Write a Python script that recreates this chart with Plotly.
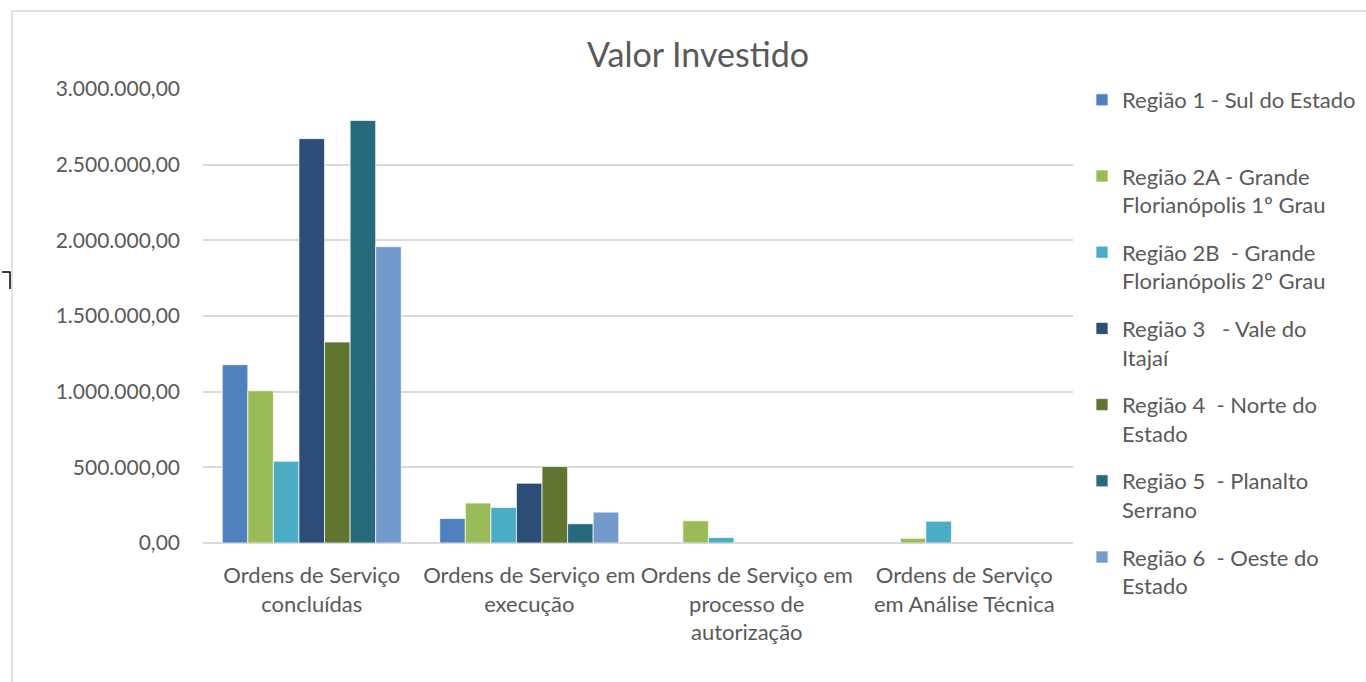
import plotly.graph_objects as go

categories = [
    "Ordens de Serviço<br>concluídas",
    "Ordens de Serviço em<br>execução",
    "Ordens de Serviço em<br>processo de<br>autorização",
    "Ordens de Serviço<br>em Análise Técnica",
]

series_names = [
    "Região 1 - Sul do Estado<br>\u00a0",
    "Região 2A - Grande<br>Florianópolis 1º Grau",
    "Região 2B  - Grande<br>Florianópolis 2º Grau",
    "Região 3   - Vale do<br>Itajaí",
    "Região 4  - Norte do<br>Estado",
    "Região 5  - Planalto<br>Serrano",
    "Região 6  - Oeste do<br>Estado",
]

regiao_1 = [1178000, 162000, 0, 0]
regiao_2a = [1006000, 264000, 147000, 31000]
regiao_2b = [540000, 235000, 36000, 144000]
regiao_3 = [2672000, 395000, 0, 0]
regiao_4 = [1328000, 505000, 0, 0]
regiao_5 = [2792000, 127000, 0, 0]
regiao_6 = [1958000, 204000, 0, 0]

series_values = [regiao_1, regiao_2a, regiao_2b, regiao_3, regiao_4, regiao_5, regiao_6]
colors = ["#4F81BD", "#9BBB59", "#4BACC6", "#2C4D75", "#5F7530", "#276A7C", "#729ACA"]

FONT = "Lato"
GREY = "#595959"
GRID = "#D9D9D9"

fig = go.Figure()
for i, (name, vals, col) in enumerate(zip(series_names, series_values, colors)):
    fig.add_trace(go.Bar(
        x=categories, y=vals, name=name,
        marker=dict(color=col,
                    line=dict(color="rgba(255,255,255,0.7)",
                              width=[1 if v > 0 else 0 for v in vals])),
        legendgroup=f"g{i}",
    ))

# pixel helpers for plot area
L, R, T, B = 203, 1073, 89, 543
def px(x):
    return (x - L) / (R - L)
def py(y):
    return (B - y) / (B - T)

fig.update_layout(
    width=1366, height=682,
    margin=dict(l=L, r=1366 - R, t=T, b=682 - B, pad=0, autoexpand=False),
    paper_bgcolor="white", plot_bgcolor="white",
    separators=",.",
    barmode="group", bargap=0.177, bargroupgap=0,
    font=dict(family=FONT, color=GREY, size=21),
    title=dict(text="Valor Investido", x=698 / 1366, xref="container", xanchor="center",
               y=1 - 55 / 682, yref="container", yanchor="middle",
               font=dict(family=FONT, size=34, color=GREY)),
    legend=dict(x=1082 / 1366, xref="container", y=py(79), xanchor="left", yanchor="top",
                font=dict(family=FONT, size=22, color=GREY),
                valign="top", tracegroupgap=16, traceorder="grouped",
                maxheight=640, bgcolor="rgba(0,0,0,0)"),
    xaxis=dict(showgrid=False, showline=False, ticks="", ticklabelstandoff=17,
               tickfont=dict(family=FONT, size=22, color=GREY)),
    yaxis=dict(range=[0, 3000000], dtick=500000, tickformat=",.2f",
               showgrid=True, gridcolor=GRID, gridwidth=1.5,
               zeroline=True, zerolinecolor=GRID, zerolinewidth=1.5,
               showline=False, ticks="", ticklabelstandoff=22,
               tickfont=dict(family=FONT, size=21, color=GREY)),
    shapes=[
        dict(type="rect", xref="paper", yref="paper",
             x0=px(12), x1=px(1400), y0=py(11), y1=py(720),
             line=dict(color=GRID, width=1.5), layer="below"),
        dict(type="line", xref="paper", yref="paper",
             x0=px(2), x1=px(10.5), y0=py(272), y1=py(272),
             line=dict(color="black", width=1.5)),
        dict(type="line", xref="paper", yref="paper",
             x0=px(10), x1=px(10), y0=py(272), y1=py(289),
             line=dict(color="black", width=1.5)),
    ],
)

fig.write_html("out.html", config={"displayModeBar": False},
               post_script="document.body.style.margin='0px';document.body.style.overflow='hidden';")
